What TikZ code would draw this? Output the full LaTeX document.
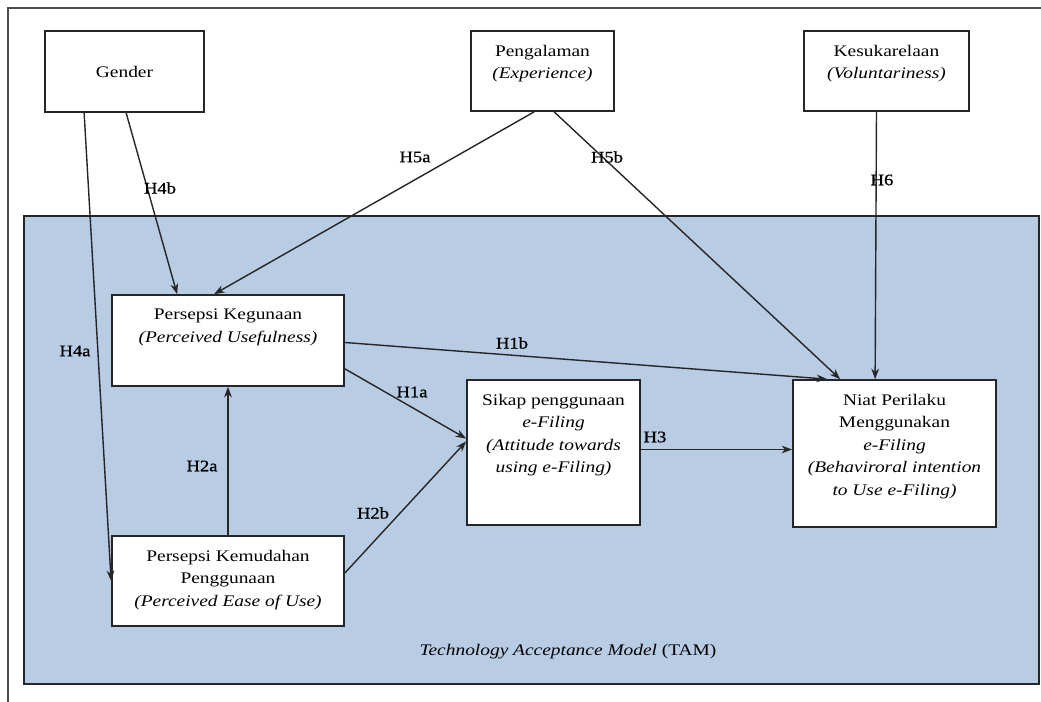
\documentclass[tikz,border=0pt]{standalone}
\usepackage{fontspec}
\setmainfont[FakeStretch=1.2]{Liberation Serif}
\newfontfamily\hypfont[FakeStretch=1.15, FakeBold=0.8]{Liberation Serif}
\usepackage{tikz}
\usetikzlibrary{calc, positioning, arrows.meta}
\definecolor{tamblue}{RGB}{184,204,228}
\tikzstyle{box}=[draw=black!85, line width=1.2pt, fill=white, inner sep=0pt, font=\fontsize{11.5}{16}\selectfont]
\tikzstyle{txt}=[align=center, inner sep=0pt, font=\fontsize{11.5}{16}\selectfont]
\tikzstyle{hyp}=[inner sep=1pt, font=\hypfont\fontsize{11.5}{13}\selectfont]
\tikzstyle{lnk}=[->, line width=1pt, black!85]
\tikzset{>={Stealth[length=7.5pt, width=5.5pt]}}

\begin{document}
\begin{tikzpicture}[x=0.025cm, y=-0.025cm]
\useasboundingbox (0,0) rectangle (1041,702);
% the frame and the TAM area
\draw[line width=1pt, black!70] (8,702) -- (8,8) -- (1041,8);
\node[draw=black!85, line width=1.2pt, fill=tamblue, minimum width=25.375cm, minimum height=11.7cm] (tam) at (531.5,450) {};
\node[txt] (tamlbl) at (568,652) {\textit{Technology Acceptance Model} (TAM)};
% the outside variables
\node[box, minimum width=3.975cm, minimum height=2.025cm] (gen) at (124.5,71.5) {Gender};
\node[box, minimum width=3.575cm, minimum height=2cm, label={[txt, anchor=north, yshift=-0.37cm]north:{Pengalaman\\\textit{(Experience)}}}] (exp) at (542.5,71) {};
\node[box, minimum width=4.125cm, minimum height=2cm, label={[txt, anchor=north, yshift=-0.37cm]north:{Kesukarelaan\\\textit{(Voluntariness)}}}] (vol) at (886.5,71) {};
% the TAM variables
\node[box, minimum width=5.8cm, minimum height=2.275cm, label={[txt, anchor=north, yshift=-0.37cm]north:{Persepsi Kegunaan\\\textit{(Perceived Usefulness)}}}] (pu) at (228,340.5) {};
\node[box, minimum width=5.8cm, minimum height=2.25cm, label={[txt, anchor=north, yshift=-0.37cm]north:{Persepsi Kemudahan\\Penggunaan\\\textit{(Perceived Ease of Use)}}}] (peou) at (228,581) {};
\node[box, minimum width=4.325cm, minimum height=3.625cm, label={[txt, anchor=north, yshift=-0.37cm]north:{Sikap penggunaan\\\textit{e-Filing}\\\textit{(Attitude towards}\\\textit{using e-Filing)}}}] (att) at (553.5,452.5) {};
\node[box, minimum width=5.075cm, minimum height=3.675cm, label={[txt, anchor=north, yshift=-0.37cm]north:{Niat Perilaku\\Menggunakan\\\textit{e-Filing}\\\textit{(Behaviroral intention}\\\textit{to Use e-Filing)}}}] (bi) at (894.5,453.5) {};
% the hypotheses
\draw[lnk] ($(gen.south west)+(40,0)$) -- (peou.west);
\draw[lnk] ($(gen.south west)+(82,0)$) -- ($(pu.north west)+(66,0)$);
\draw[lnk] ($(exp.south west)+(64,0)$) -- ($(pu.north west)+(103,0)$);
\draw[lnk] ($(exp.south west)+(84,0)$) -- ($(bi.north west)+(48,0)$);
\draw[lnk] ($(vol.south)+(-10,0)$) -- ($(bi.north west)+(83,0)$);
\draw[lnk] ($(pu.east)+(0,2)$) -- ($(bi.north west)+(35,0)$);
\draw[lnk] ($(pu.south east)+(0,-18)$) -- ($(att.west)+(0,-14)$);
\draw[lnk] (peou.north) -- (pu.south);
\draw[lnk] ($(peou.east)+(0,-8)$) -- ($(att.west)+(0,-11)$);
\draw[lnk] ([yshift=0.075cm]att.east) -- ([yshift=0.075cm]att.east -| bi.west);
% the labels
\node[hyp] (l4a) at (75,351) {H4a};
\node[hyp] (l4b) at (160,188) {H4b};
\node[hyp] (l5a) at (415,157) {H5a};
\node[hyp] (l5b) at (607,157) {H5b};
\node[hyp] (l6) at (882,180) {H6};
\node[hyp] (l1b) at (512,343) {H1b};
\node[hyp] (l1a) at (412,392) {H1a};
\node[hyp] (l2a) at (202,466) {H2a};
\node[hyp] (l2b) at (373,513) {H2b};
\node[hyp] (l3) at (655,437) {H3};
\end{tikzpicture}
\end{document}
